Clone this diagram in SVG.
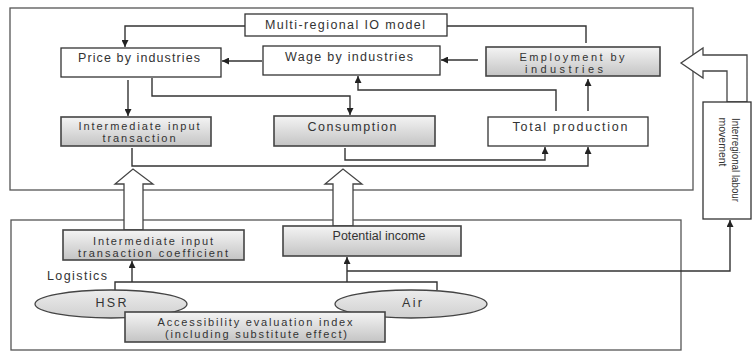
<svg xmlns="http://www.w3.org/2000/svg" width="752" height="352" viewBox="0 0 752 352">
<defs>
<linearGradient id="g" x1="0" y1="0" x2="0" y2="1">
<stop offset="0" stop-color="#f4f4f4"/>
<stop offset="1" stop-color="#c4c4c4"/>
</linearGradient>
<linearGradient id="ge" x1="0" y1="0" x2="0" y2="1">
<stop offset="0" stop-color="#ececec"/>
<stop offset="1" stop-color="#d0d0d0"/>
</linearGradient>
<marker id="ah" viewBox="0 0 8 8" refX="8" refY="4" markerWidth="7" markerHeight="7" orient="auto" markerUnits="userSpaceOnUse">
<path d="M0,0 L8,4 L0,8 z" fill="#222"/>
</marker>
<style>
.frame{fill:none;stroke:#555;stroke-width:1.3}
.wb{fill:#fff;stroke:#333;stroke-width:1.3}
.gb{fill:url(#g);stroke:#444;stroke-width:1.6}
.el{fill:url(#ge);stroke:#444;stroke-width:1.3}
.c{fill:none;stroke:#333;stroke-width:1.4}
.ca{fill:none;stroke:#333;stroke-width:1.4;marker-end:url(#ah)}
.ha{fill:#fff;stroke:#444;stroke-width:1.3}
text{font-family:"Liberation Sans",Arial,sans-serif;font-size:12.5px;fill:#333;text-anchor:middle;dominant-baseline:central}
.t2{font-size:11px}
.v{font-size:10.5px}
</style>
</defs>

<rect class="frame" x="10" y="8" width="683" height="182"/>
<rect class="frame" x="11" y="220" width="670" height="130"/>

<g id="connectors">
<path class="ca" d="M245,26 H125 V47"/>
<path class="c" d="M447,26 H586 V43"/>
<path class="ca" d="M262,61 H222"/>
<path class="ca" d="M478,60 H441"/>
<path class="ca" d="M128,80 V116"/>
<path class="ca" d="M152,78 V96 H350 V115"/>
<path class="ca" d="M556,111 V90 H358 V76"/>
<path class="ca" d="M588,111 V79"/>
<path class="ca" d="M132,148 V166 H588 V147"/>
<path class="ca" d="M345,148 V160 H545 V147"/>
<path class="c" d="M115,291 V282 H437 V290"/>
<path class="ca" d="M132,282 V261"/>
<path class="ca" d="M347,282 V257"/>
<path class="ca" d="M347,271 H730 V220"/>
</g>

<g id="arrow-left-up">
<polygon class="ha" points="124,230 124,184 115,184 133,169 153,184 143,184 143,230"/>
</g>
<g id="arrow-right-up">
<polygon class="ha" points="333,226 333,184 325,184 343,169 362,184 353,184 353,226"/>
</g>
<g id="arrow-labour">
<polygon class="ha" points="727,102 727,71 703,71 703,78 681,63 703,48 703,55 747,55 747,102"/>
</g>

<g id="mrio">
<rect class="wb" x="245" y="14" width="202" height="22"/>
<text x="345" y="25" textLength="160" lengthAdjust="spacing">Multi-regional IO model</text>
</g>
<g id="price">
<rect class="wb" x="61" y="48" width="160" height="29"/>
<text x="139" y="58" textLength="122" lengthAdjust="spacing">Price by industries</text>
</g>
<g id="wage">
<rect class="wb" x="263" y="46" width="177" height="29"/>
<text x="349" y="57" textLength="128" lengthAdjust="spacing">Wage by industries</text>
</g>
<g id="employment">
<rect class="gb" x="486" y="47" width="174" height="29"/>
<text class="t2" x="572" y="56.5" textLength="105" lengthAdjust="spacing">Employment by</text>
<text class="t2" x="564" y="68.5" textLength="78" lengthAdjust="spacing">industries</text>
</g>
<g id="intermediate">
<rect class="gb" x="61" y="117" width="150" height="29"/>
<text class="t2" x="139" y="125.5" textLength="121" lengthAdjust="spacing">Intermediate input</text>
<text class="t2" x="139" y="137.5" textLength="73" lengthAdjust="spacing">transaction</text>
</g>
<g id="consumption">
<rect class="gb" x="274" y="116" width="161" height="30"/>
<text x="352" y="127" textLength="89" lengthAdjust="spacing">Consumption</text>
</g>
<g id="total">
<rect class="wb" x="488" y="117" width="160" height="29"/>
<text x="570" y="127" textLength="115" lengthAdjust="spacing">Total production</text>
</g>
<g id="labour">
<rect class="wb" x="703" y="102" width="48" height="117"/>
<text class="v" transform="translate(736,160) rotate(90)" textLength="84" lengthAdjust="spacingAndGlyphs">Interregional labour</text>
<text class="v" transform="translate(723,142) rotate(90)" textLength="49" lengthAdjust="spacingAndGlyphs">movement</text>
</g>
<g id="coefficient">
<rect class="gb" x="63" y="230" width="181" height="30"/>
<text class="t2" x="153" y="240.5" textLength="120" lengthAdjust="spacing">Intermediate input</text>
<text class="t2" x="153" y="252.5" textLength="150" lengthAdjust="spacing">transaction coefficient</text>
</g>
<g id="potential">
<rect class="gb" x="283" y="226" width="178" height="30"/>
<text x="379" y="236" textLength="93" lengthAdjust="spacing">Potential income</text>
</g>
<g id="logistics">
<text x="77" y="276" textLength="60" lengthAdjust="spacing">Logistics</text>
</g>
<g id="hsr">
<ellipse class="el" cx="111" cy="304" rx="76" ry="14"/>
<text x="111" y="303" textLength="31" lengthAdjust="spacing">HSR</text>
</g>
<g id="air">
<ellipse class="el" cx="411" cy="304" rx="76" ry="14"/>
<text x="412" y="303" textLength="20" lengthAdjust="spacing">Air</text>
</g>
<g id="accessibility">
<rect class="gb" x="125" y="312" width="260" height="30"/>
<text class="t2" x="255" y="321.5" textLength="195" lengthAdjust="spacing">Accessibility evaluation index</text>
<text class="t2" x="256" y="333.5" textLength="182" lengthAdjust="spacing">(including substitute effect)</text>
</g>
</svg>
